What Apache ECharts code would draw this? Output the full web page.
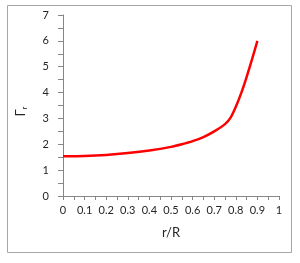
<!DOCTYPE html>
<html>
<head>
<meta charset="utf-8">
<script src="https://cdn.jsdelivr.net/npm/echarts@6/dist/echarts.min.js"></script>
<style>
html,body{margin:0;padding:0;background:#fff;}
#chart{width:300px;height:263px;}
</style>
</head>
<body>
<div id="chart"></div>
<script>
const rOverR = [0, 0.1, 0.2, 0.3, 0.4, 0.5, 0.55, 0.6, 0.65, 0.7, 0.75, 0.775, 0.8, 0.825, 0.85, 0.875, 0.9];
const gammaR = [1.54, 1.55, 1.59, 1.66, 1.76, 1.90, 2.0, 2.12, 2.28, 2.5, 2.78, 3.02, 3.45, 3.98, 4.6, 5.28, 6.0];
const xTicks = [0, 0.1, 0.2, 0.3, 0.4, 0.5, 0.6, 0.7, 0.8, 0.9, 1];
const yTicks = [0, 1, 2, 3, 4, 5, 6, 7];

const chart = echarts.init(document.getElementById('chart'), null, {renderer: 'canvas'});
const font = 'Lato, "Open Sans", sans-serif';
chart.setOption({
  animation: false,
  backgroundColor: '#fff',
  graphic: [{
    type: 'rect', shape: {x: 7.5, y: 5.5, width: 284, height: 247},
    style: {fill: 'none', stroke: '#a6a6a6', lineWidth: 1}, silent: true
  }],
  grid: {left: 63, right: 21, top: 15, bottom: 67},
  xAxis: {
    type: 'value', min: xTicks[0], max: xTicks[xTicks.length - 1], interval: 0.1,
    name: 'r/R', nameLocation: 'middle', nameGap: 30,
    nameTextStyle: {fontFamily: font, fontSize: 13, color: '#262626'},
    axisLine: {show: true, lineStyle: {color: '#868686', width: 1}},
    axisTick: {show: true, length: 4, lineStyle: {color: '#868686'}},
    minorTick: {show: true, splitNumber: 2, length: 4, lineStyle: {color: '#868686'}},
    splitLine: {show: false},
    axisLabel: {fontFamily: font, fontSize: 11, color: '#262626', margin: 9,
      formatter: v => String(Math.round(v * 10) / 10)}
  },
  yAxis: {
    type: 'value', min: yTicks[0], max: yTicks[yTicks.length - 1], interval: 1,
    name: '{g|Γ}{s|r}', nameLocation: 'middle', nameGap: 35,
    nameTextStyle: {padding: [0, 12, 0, 0], color: '#262626',
      rich: {g: {fontFamily: font, fontSize: 13, color: '#262626'},
             s: {fontFamily: font, fontSize: 8, color: '#262626', verticalAlign: 'bottom', padding: [6, 0, 0, 0]}}},
    axisLine: {show: true, lineStyle: {color: '#868686', width: 1}},
    axisTick: {show: true, length: 5, lineStyle: {color: '#868686'}},
    minorTick: {show: true, splitNumber: 2, length: 5, lineStyle: {color: '#868686'}},
    splitLine: {show: false},
    axisLabel: {fontFamily: font, fontSize: 11, color: '#262626', margin: 14}
  },
  series: [{
    type: 'line',
    data: rOverR.map((x, i) => [x, gammaR[i]]),
    smooth: 0.3,
    showSymbol: false,
    lineStyle: {color: '#ff0000', width: 2.5},
    itemStyle: {color: '#ff0000'}
  }]
});
</script>
</body>
</html>
